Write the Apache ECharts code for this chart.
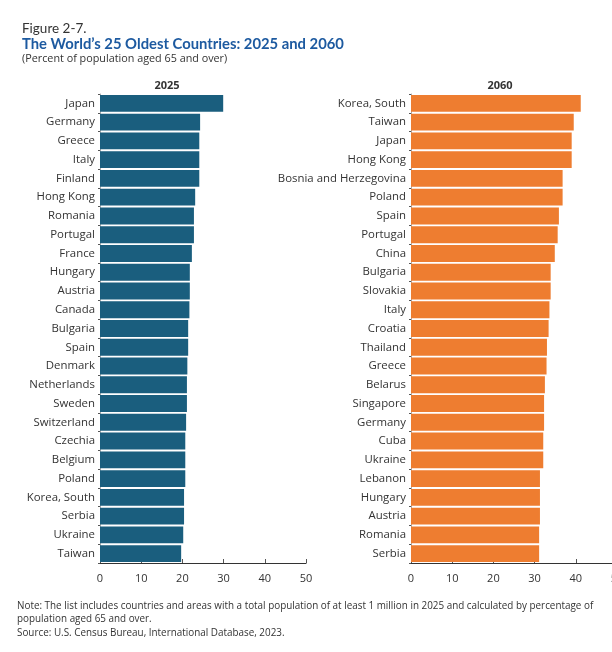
<html>

<head>
    <meta charset="utf-8">
    <script src='https://cdn.jsdelivr.net/npm/echarts@6/dist/echarts.min.js'></script>
    <style>
        body { margin: 0; background: #fff; }
        #main { width: 612px; height: 652px; }
    </style>
</head>

<body>
    <div id='main'></div>

    <script>
        // 2025, top to bottom
        var countries2025 = ['Japan', 'Germany', 'Greece', 'Italy', 'Finland', 'Hong Kong', 'Romania', 'Portugal',
            'France', 'Hungary', 'Austria', 'Canada', 'Bulgaria', 'Spain', 'Denmark', 'Netherlands', 'Sweden',
            'Switzerland', 'Czechia', 'Belgium', 'Poland', 'Korea, South', 'Serbia', 'Ukraine', 'Taiwan'];
        var values2025 = [29.9, 24.3, 24.1, 24.1, 24.1, 23.1, 22.8, 22.8, 22.3, 21.8, 21.8, 21.7, 21.4, 21.4,
            21.2, 21.1, 21.1, 20.9, 20.7, 20.7, 20.7, 20.4, 20.4, 20.2, 19.7];

        // 2060, top to bottom
        var countries2060 = ['Korea, South', 'Taiwan', 'Japan', 'Hong Kong', 'Bosnia and Herzegovina', 'Poland',
            'Spain', 'Portugal', 'China', 'Bulgaria', 'Slovakia', 'Italy', 'Croatia', 'Thailand', 'Greece',
            'Belarus', 'Singapore', 'Germany', 'Cuba', 'Ukraine', 'Lebanon', 'Hungary', 'Austria', 'Romania', 'Serbia'];
        var values2060 = [41.2, 39.5, 39.0, 39.0, 36.8, 36.8, 35.9, 35.6, 34.9, 33.9, 33.9, 33.6, 33.4, 33.0,
            32.9, 32.5, 32.3, 32.3, 32.1, 32.1, 31.3, 31.3, 31.3, 31.1, 31.1];

        var xTicks = [0, 10, 20, 30, 40, 50];

        var fontFam = '"Open Sans", sans-serif';
        var titleFam = 'Lato, "Open Sans", sans-serif';
        var chart = echarts.init(document.getElementById('main'));

        function xAxisFor(idx) {
            return {
                gridIndex: idx,
                type: 'value',
                min: xTicks[0],
                max: xTicks[xTicks.length - 1],
                interval: 10,
                splitLine: { show: false },
                axisLine: { show: true, lineStyle: { color: '#333', width: 1.2 } },
                axisTick: { show: true, inside: true, length: 4, lineStyle: { color: '#555' } },
                axisLabel: { color: '#333', fontSize: 11, fontFamily: fontFam, margin: 10 }
            };
        }

        function yAxisFor(idx, cats) {
            return {
                gridIndex: idx,
                type: 'category',
                inverse: true,
                data: cats,
                axisLine: { show: true, lineStyle: { color: '#aaa' } },
                axisTick: { show: true, length: 2, lineStyle: { color: '#555' } },
                axisLabel: { color: '#333', fontSize: 11.4, fontFamily: fontFam, margin: 5 }
            };
        }

        var option = {
            animation: false,
            backgroundColor: '#fff',
            title: [
                { text: 'Figure 2-7.', left: 17, top: 17, textStyle: { fontSize: 13.5, fontWeight: 'normal', color: '#333', fontFamily: titleFam } },
                { text: 'The World\u2019s 25 Oldest Countries: 2025 and 2060', left: 17, top: 32, textStyle: { fontSize: 14.8, fontWeight: 'bold', color: '#1d5aa0', fontFamily: titleFam } },
                { text: '(Percent of population aged 65 and over)', left: 17, top: 48, textStyle: { fontSize: 10.8, fontWeight: 'normal', color: '#333', fontFamily: fontFam } },
                { text: '2025', left: 162, top: 75, textAlign: 'center', textStyle: { fontSize: 11, fontWeight: 'bold', color: '#333', fontFamily: fontFam } },
                { text: '2060', left: 495, top: 75, textAlign: 'center', textStyle: { fontSize: 11, fontWeight: 'bold', color: '#333', fontFamily: fontFam } }
            ],
            graphic: [
                { type: 'text', left: 17, top: 600, style: { text: 'Note: The list includes countries and areas with a total population of at least 1 million in 2025 and calculated by percentage of\npopulation aged 65 and over.', fontSize: 9.9, lineHeight: 12.5, fill: '#333', fontFamily: fontFam } },
                { type: 'text', left: 17, top: 628, style: { text: 'Source: U.S. Census Bureau, International Database, 2023.', fontSize: 9.9, fill: '#333', fontFamily: fontFam } }
            ],
            grid: [
                { left: 100, top: 94, width: 206, height: 469, outerBoundsMode: 'none' },
                { left: 411, top: 94, width: 206, height: 469, outerBoundsMode: 'none' }
            ],
            xAxis: [xAxisFor(0), xAxisFor(1)],
            yAxis: [yAxisFor(0, countries2025), yAxisFor(1, countries2060)],
            series: [
                {
                    type: 'bar', xAxisIndex: 0, yAxisIndex: 0,
                    data: values2025,
                    barCategoryGap: '10%',
                    itemStyle: { color: '#1a5e7e' }
                },
                {
                    type: 'bar', xAxisIndex: 1, yAxisIndex: 1,
                    data: values2060,
                    barCategoryGap: '10%',
                    itemStyle: { color: '#ee7d30' }
                }
            ]
        };

        chart.setOption(option);
    </script>
</body>

</html>
